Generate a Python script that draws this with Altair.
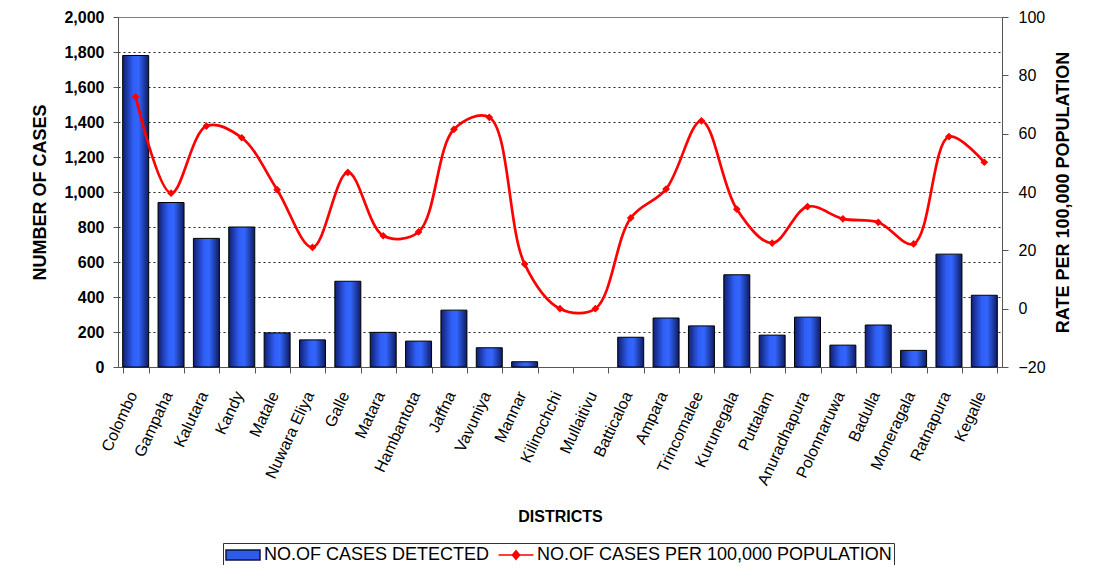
import altair as alt
import pandas as pd

districts = ["Colombo", "Gampaha", "Kalutara", "Kandy", "Matale", "Nuwara Eliya", "Galle",
             "Matara", "Hambantota", "Jaffna", "Vavuniya", "Mannar", "Kilinochchi",
             "Mullaitivu", "Batticaloa", "Ampara", "Trincomalee", "Kurunegala", "Puttalam",
             "Anuradhapura", "Polonnaruwa", "Badulla", "Moneragala", "Ratnapura", "Kegalle"]
cases = [1780, 940, 735, 800, 195, 155, 490, 198, 148, 325, 110, 30, 0, 0,
         170, 280, 235, 527, 182, 285, 125, 240, 95, 645, 410]
rates = [72.6, 39.6, 62.6, 58.6, 40.8, 21.0, 46.7, 25.0, 26.3, 61.5, 65.6, 15.3, 0.0, 0.0,
         31.1, 41.0, 64.4, 34.1, 22.5, 35.0, 30.8, 29.6, 22.2, 59.0, 50.2]
series_names = ["NO.OF CASES DETECTED", "NO.OF CASES PER 100,000 POPULATION"]
series_fills = ["#2e5ce6", "#ff0000"]
series_strokes = ["#0a1640", "#ff0000"]
series_shapes = ["M-1.89,-0.56H1.89V0.56H-1.89Z",
                 "M-1.94,0H1.94M0,-0.47L0.4,0L0,0.47L-0.4,0Z"]
left_ticks = list(range(0, 2001, 200))
right_ticks = list(range(-20, 101, 20))

df = pd.DataFrame({"district": districts, "cases": cases, "rate": rates})
legend_df = pd.DataFrame({"series": series_names})

FONT = "Liberation Sans"

x_enc = alt.X("district:N", sort=districts,
              scale=alt.Scale(paddingInner=0.265, paddingOuter=0.1325),
              axis=alt.Axis(title="DISTRICTS", labelAngle=-65, labelFontSize=16,
                            labelColor="#000", labelFont=FONT, labelAlign="right",
                            labelBaseline="middle", labelPadding=19, labelOffset=-3,
                            tickBand="extent", tickSize=6, tickColor="#555",
                            domainColor="#555", titleFontSize=16, titleFontWeight="bold",
                            titleFont=FONT, titleColor="#000", titleBaseline="top",
                            titleY=141, grid=False))

bar_grad = alt.Gradient(gradient="linear", x1=0, x2=1, y1=0, y2=0,
                        stops=[alt.GradientStop(color="#101f70", offset=0),
                               alt.GradientStop(color="#2f5ef5", offset=0.4),
                               alt.GradientStop(color="#3366ff", offset=0.6),
                               alt.GradientStop(color="#0e1c62", offset=1)])

bars = alt.Chart(df).mark_bar(fill=bar_grad, stroke="#000", strokeWidth=1).encode(
    x=x_enc,
    y=alt.Y("cases:Q", scale=alt.Scale(domain=[0, 2000], nice=False),
            axis=alt.Axis(title="NUMBER OF CASES", values=left_ticks, format=",.0f",
                          labelFontSize=16, labelFontWeight="bold", labelColor="#000",
                          labelFont=FONT, labelPadding=9, tickSize=5, tickColor="#555",
                          domainColor="#555", grid=True, gridColor="#222",
                          gridDash=[2, 3], gridWidth=1,
                          gridOpacity={"condition": {"test": "datum.value === 0 || datum.value === 2000",
                                                     "value": 0}, "value": 1},
                          titleFontSize=18, titleFontWeight="bold", titleFont=FONT,
                          titleColor="#000", titleAngle=270, titleBaseline="middle",
                          titleAlign="center", titleX=-78, titleY=175)),
    strokeOpacity=alt.condition("datum.cases === 0", alt.value(0), alt.value(1)),
)

line_base = alt.Chart(df).encode(
    x=alt.X("district:N", sort=districts),
    y=alt.Y("rate:Q", scale=alt.Scale(domain=[-20, 100], nice=False),
            axis=alt.Axis(title="RATE PER 100,000 POPULATION", orient="right",
                          values=right_ticks, labelFontSize=16, labelColor="#000",
                          labelFont=FONT, labelPadding=10, tickSize=6, tickColor="#555",
                          domainColor="#555", grid=False,
                          titleFontSize=18, titleFontWeight="bold", titleFont=FONT,
                          titleColor="#000", titleAngle=270, titleBaseline="middle",
                          titleAlign="center", titleX=61, titleY=175)),
)

line = line_base.mark_line(interpolate="catmull-rom", strokeWidth=2.7, color="#ff0000")
points = line_base.mark_point(shape="diamond", filled=True, size=60, color="#ff0000", opacity=1)

leg = alt.Legend(title=None, orient="none", legendX=105, legendY=526,
                 direction="horizontal", columns=2, symbolSize=324,
                 symbolOffset=8, labelOffset=11, columnPadding=5,
                 labelFontSize=18, labelFont=FONT, labelColor="#000",
                 strokeColor="#333", padding=2, labelLimit=500,
                 symbolStrokeWidth=1.5, symbolOpacity=1)

legend_layer = alt.Chart(legend_df).transform_filter("false").mark_point(
    filled=True, strokeWidth=1.5).encode(
    fill=alt.Fill("series:N", scale=alt.Scale(domain=series_names, range=series_fills), legend=leg),
    stroke=alt.Stroke("series:N", scale=alt.Scale(domain=series_names, range=series_strokes), legend=leg),
    shape=alt.Shape("series:N", scale=alt.Scale(domain=series_names, range=series_shapes), legend=leg),
)

right_rate = alt.layer(line, points, legend_layer)

border = alt.Chart(df).mark_rule(color="#000", strokeWidth=1).encode(
    x=alt.value(973), y=alt.value(-17), y2=alt.value(556))

chart = alt.layer(bars, right_rate, border).resolve_scale(y="independent").properties(
    width=884, height=350,
    autosize=alt.AutoSizeParams(type="none"),
    padding={"left": 110, "top": 9, "right": 82, "bottom": 198},
).configure_view(stroke="#808080", strokeWidth=1)

chart.save("out.html", embed_options={"renderer": "svg", "actions": False})
